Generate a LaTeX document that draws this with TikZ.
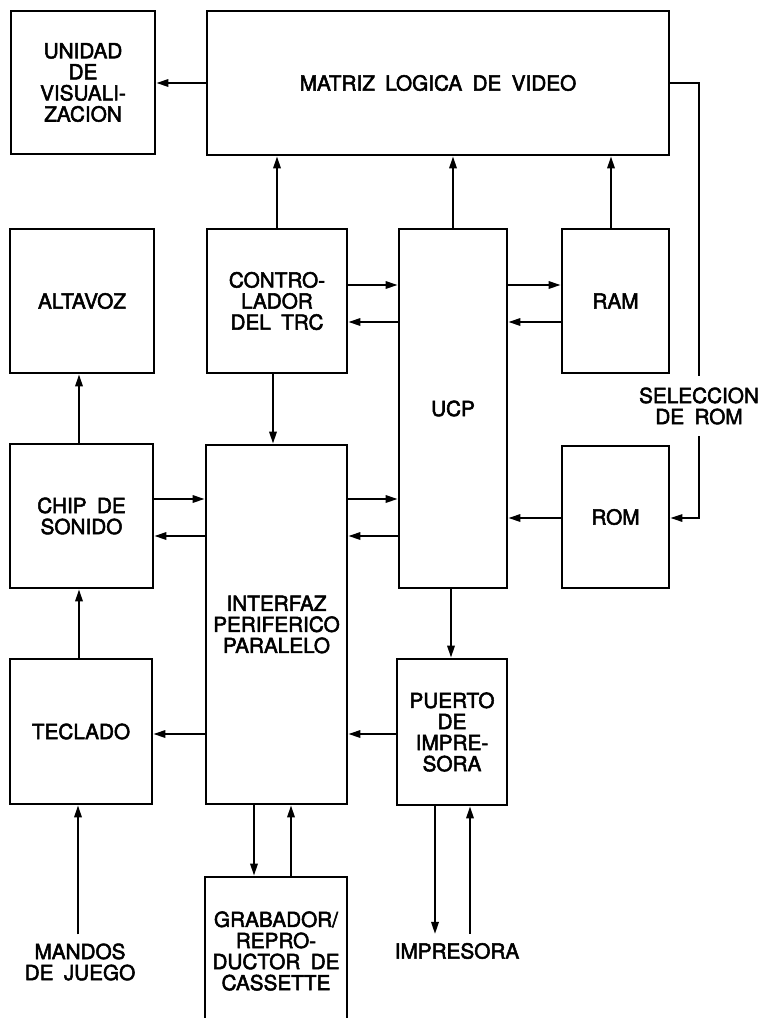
\documentclass[tikz,border=0pt]{standalone}
\usepackage{fontspec}
\newfontfamily\blkfont{TeX Gyre Heros}[FakeBold=2.5,WordSpace=1.8]
\usetikzlibrary{arrows.meta,calc}
\newcommand{\blksize}{\blkfont\fontsize{11.8}{12}\selectfont}

\begin{document}
\begin{tikzpicture}[x=0.02cm,y=-0.02cm,
  blk/.style={rectangle,draw=black,line width=1.6pt,inner sep=0pt,
              align=center,font=\blksize},
  arr/.style={-{Triangle[length=6.8pt,width=4.2pt]},line width=1.15pt},
  wire/.style={line width=1pt},
  lbl/.style={inner sep=5pt,align=center,font=\blksize}]
\useasboundingbox (0,0) rectangle (761,1018);
\clip (0,0) rectangle (761,1018);
%% ── Blocks — placed at pixel coordinates ────────────────────────────────
\node[blk,minimum width=2.88cm,minimum height=2.86cm](disp) at (83,82.5)
  {UNIDAD\\DE\\VISUALI-\\ZACION};
\node[blk,minimum width=9.24cm,minimum height=2.88cm](matriz) at (438,83)
  {MATRIZ LOGICA DE VIDEO};
\node[blk,minimum width=2.88cm,minimum height=2.88cm](altavoz) at (82,301)
  {ALTAVOZ};
\node[blk,minimum width=2.80cm,minimum height=2.88cm](ctrl) at (277,301)
  {CONTRO-\\LADOR\\DEL TRC};
\node[blk,minimum width=2.16cm,minimum height=7.18cm](ucp) at (453,408.5)
  {UCP};
\node[blk,minimum width=2.14cm,minimum height=2.88cm](ram) at (615.5,301)
  {RAM};
\node[blk,minimum width=2.86cm,minimum height=2.88cm](chip) at (81.5,516)
  {CHIP DE\\SONIDO};
\node[blk,minimum width=2.82cm,minimum height=7.18cm](iface) at (276.5,624.5)
  {INTERFAZ\\PERIFERICO\\PARALELO};
\node[blk,minimum width=2.14cm,minimum height=2.84cm](rom) at (615.5,517)
  {ROM};
\node[blk,minimum width=2.84cm,minimum height=2.90cm](tecl) at (81,731.5)
  {TECLADO};
\node[blk,minimum width=2.20cm,minimum height=2.92cm](puerto) at (452,732)
  {PUERTO\\DE\\IMPRE-\\SORA};
\node[blk,minimum width=2.84cm,minimum height=2.96cm](grab) at (276,951)
  {GRABADOR/\\REPRO-\\DUCTOR DE\\CASSETTE};
%% ── Outside labels ──────────────────────────────────────────────────────
\node[lbl](mandos) at (80,962) {MANDOS\\DE JUEGO};
\node[lbl](impr) at (457,951) {IMPRESORA};
\node[lbl,inner sep=0pt,minimum height=1.2cm](sel) at (699,406)
  {SELECCION\\DE ROM};
%% ── Video and display ───────────────────────────────────────────────────
\draw[arr] (matriz.west) -- (matriz.west -| disp.east);
\draw[arr] (ctrl.north) -- (ctrl.north |- matriz.south);
\draw[arr] (ucp.north) -- (ucp.north |- matriz.south);
\draw[arr] (ram.north -| 611,0) -- (matriz.south -| 611,0);
%% ── CPU bus ─────────────────────────────────────────────────────────────
\draw[arr] (ctrl.east |- 0,285) -- (ucp.west |- 0,285);
\draw[arr] (ucp.west |- 0,322) -- (ctrl.east |- 0,322);
\draw[arr] (ucp.east |- 0,285) -- (ram.west |- 0,285);
\draw[arr] (ram.west |- 0,322) -- (ucp.east |- 0,322);
\draw[arr] (rom.west |- 0,518) -- (ucp.east |- 0,518);
\draw[arr] (iface.east |- 0,499) -- (ucp.west |- 0,499);
\draw[arr] (ucp.west |- 0,536) -- (iface.east |- 0,536);
\draw[arr] (ctrl.south -| 273,0) -- (iface.north -| 273,0);
\draw[arr] (ucp.south -| 451,0) -- (puerto.north -| 451,0);
%% ── ROM select ──────────────────────────────────────────────────────────
\draw[wire] (matriz.east) -| (sel.north);
\draw[arr,line width=1pt] (sel.south) |- (rom.east |- 0,518);
%% ── Sound, keyboard, peripherals ────────────────────────────────────────
\draw[arr] (chip.north -| 79,0) -- (altavoz.south -| 79,0);
\draw[arr] (tecl.north -| 79,0) -- (chip.south -| 79,0);
\draw[arr] (chip.east |- 0,499) -- (iface.west |- 0,499);
\draw[arr] (iface.west |- 0,536) -- (chip.east |- 0,536);
\draw[arr] (iface.west |- 0,734) -- (tecl.east |- 0,734);
\draw[arr] (puerto.west |- 0,734) -- (iface.east |- 0,734);
\draw[arr] (iface.south -| 254,0) -- (grab.north -| 254,0);
\draw[arr] (grab.north -| 291,0) -- (iface.south -| 291,0);
\draw[arr] (mandos.north -| 78,0) -- (tecl.south -| 78,0);
\draw[arr] (puerto.south -| 435,0) -- (impr.north -| 435,0);
\draw[arr] (impr.north -| 470,0) -- (puerto.south -| 470,0);
\end{tikzpicture}
\end{document}
